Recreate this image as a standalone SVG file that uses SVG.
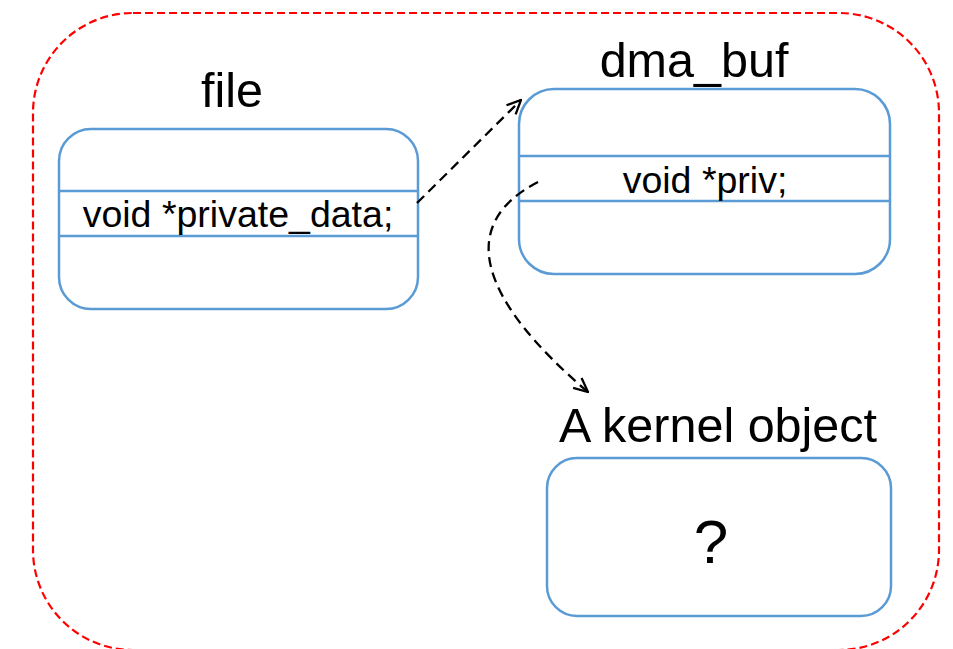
<svg xmlns="http://www.w3.org/2000/svg" width="953" height="649" viewBox="0 0 953 649">
  <style>
    .frame { fill: none; stroke: #ff0000; stroke-width: 2.2; stroke-dasharray: 8 4; }
    .box { fill: #ffffff; stroke: #5b9bd5; stroke-width: 2.5; }
    .row { stroke: #5b9bd5; stroke-width: 2.5; }
    .title { font-family: "Liberation Sans", Arial, sans-serif; font-size: 48.5px; fill: #000; text-anchor: middle; }
    .field { font-family: "Liberation Sans", Arial, sans-serif; font-size: 37.5px; fill: #000; text-anchor: middle; }
    .mark { font-family: "Liberation Sans", Arial, sans-serif; font-size: 62px; fill: #000; text-anchor: middle; }
    .link { fill: none; stroke: #000; stroke-width: 2.3; stroke-dasharray: 10 6; marker-end: url(#open); }
  </style>
  <defs>
    <marker id="open" viewBox="0 0 16 16" refX="15" refY="8" markerWidth="16" markerHeight="16" markerUnits="userSpaceOnUse" orient="auto">
      <path d="M1,1.5 L15,8 L1,14.5" fill="none" stroke="#000" stroke-width="2.3"/>
    </marker>
  </defs>

  <!-- outer dashed boundary -->
  <rect class="frame" x="33" y="13" width="906" height="637" rx="100" ry="100"/>

  <g id="file">
    <text class="title" x="232" y="107">file</text>
    <rect class="box" x="59" y="129" width="359" height="180" rx="32" ry="32"/>
    <line class="row" x1="59" y1="191" x2="418" y2="191"/>
    <line class="row" x1="59" y1="236" x2="418" y2="236"/>
    <text class="field" x="238" y="227">void *private_data;</text>
  </g>

  <g id="dma_buf">
    <text class="title" x="694" y="77">dma_buf</text>
    <rect class="box" x="519" y="89" width="371" height="185" rx="35" ry="35"/>
    <line class="row" x1="519" y1="156" x2="890" y2="156"/>
    <line class="row" x1="519" y1="201" x2="890" y2="201"/>
    <text class="field" x="705" y="193">void *priv;</text>
  </g>

  <g id="kernel_object">
    <text class="title" x="718" y="442">A kernel object</text>
    <rect class="box" x="547" y="458" width="344" height="158" rx="30" ry="30"/>
    <text class="mark" x="711" y="563">?</text>
  </g>

  <g id="connectors">
    <path class="link" d="M417,203 L521,100"/>
    <path class="link" d="M538,182 C455,225 480,300 588,392"/>
  </g>
</svg>
